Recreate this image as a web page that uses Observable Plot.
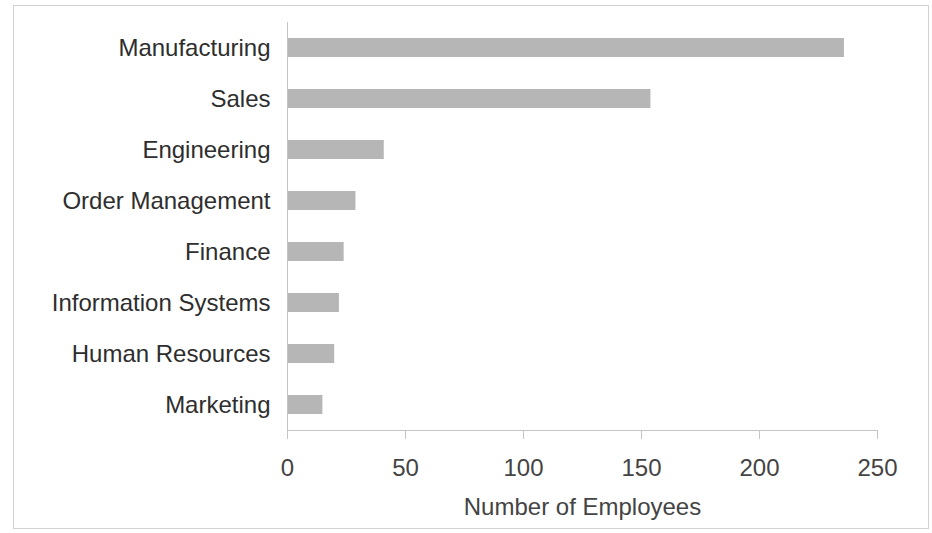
<!DOCTYPE html>
<html><head><meta charset="utf-8">
<script src="https://cdn.jsdelivr.net/npm/d3@7"></script>
<script src="https://cdn.jsdelivr.net/npm/@observablehq/plot@0.6"></script>
<style>
html,body{margin:0;padding:0;background:#fff;}
#wrap{position:relative;width:932px;height:533px;overflow:hidden;}
#border{position:absolute;left:13px;top:5px;width:916px;height:524px;border:1px solid #d2d2d2;box-sizing:border-box;pointer-events:none;}
#wrap svg{position:absolute;left:0;top:0;}
</style></head><body>
<div id="wrap"><div id="border"></div></div>
<script>
const departments = ["Manufacturing", "Sales", "Engineering", "Order Management", "Finance", "Information Systems", "Human Resources", "Marketing"];
const employees = [236, 154, 41, 29, 24, 22, 20, 15];
const xTicks = [0, 50, 100, 150, 200, 250];
const xLabel = "Number of Employees";

const data = departments.map((d, i) => ({department: d, employees: employees[i]}));

const chart = Plot.plot({
  width: 932,
  height: 533,
  marginLeft: 287,
  marginRight: 55,
  marginTop: 22,
  marginBottom: 103,
  style: {fontFamily: "'Liberation Sans', Arial, sans-serif", fontSize: "24px", background: "transparent", color: "#333"},
  x: {domain: [0, 250]},
  y: {domain: departments, paddingInner: 0.62, paddingOuter: 0.31},
  marks: [
    Plot.barX(data, {x: "employees", y: "department", fill: "#b6b6b6"}),
    Plot.ruleX([0], {stroke: "#c4c4c4"}),
    Plot.frame({anchor: "bottom", stroke: "#c4c4c4"}),
    Plot.axisX({ticks: xTicks, tickSize: 9, tickPadding: 19, stroke: "#c4c4c4", fill: "#444", fontSize: 24,
      label: xLabel, labelAnchor: "center", labelOffset: 84, labelArrow: "none"}),
    Plot.axisY({tickSize: 0, tickPadding: 17, label: null, fontSize: 24, fill: "#2e2e2e"})
  ]
});
document.getElementById("wrap").appendChild(chart);
</script>
</body></html>
